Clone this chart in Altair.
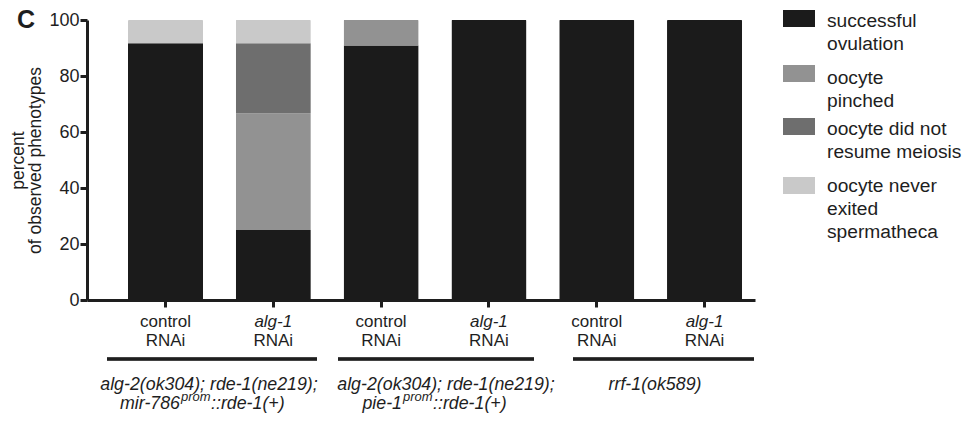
import altair as alt
import pandas as pd

# ---- data -------------------------------------------------------------
bar_ids = ["b1", "b2", "b3", "b4", "b5", "b6"]
treatment = ["control", "alg-1", "control", "alg-1", "control", "alg-1"]
phenotypes = [
    "successful ovulation",
    "oocyte pinched",
    "oocyte did not resume meiosis",
    "oocyte never exited spermatheca",
]
legend_labels = [
    "successful\n ovulation",
    "oocyte\npinched",
    "oocyte did not\nresume meiosis",
    "oocyte never\nexited\nspermatheca",
]
successful = [91.7, 25.0, 90.9, 100.0, 100.0, 100.0]
pinched = [0.0, 41.7, 9.1, 0.0, 0.0, 0.0]
not_resumed = [0.0, 25.0, 0.0, 0.0, 0.0, 0.0]
never_exited = [8.3, 8.3, 0.0, 0.0, 0.0, 0.0]
y_ticks = [0, 20, 40, 60, 80, 100]
colors = ["#1b1b1b", "#929292", "#6e6e6e", "#c9c9c9"]

series = [successful, pinched, not_resumed, never_exited]
rows = []
for k, (ph, vals) in enumerate(zip(phenotypes, series)):
    for b, v in zip(bar_ids, vals):
        rows.append({"bar": b, "phenotype": ph, "value": v, "ord": k})
df = pd.DataFrame(rows)
lab_df = pd.DataFrame({"bar": bar_ids, "treat": treatment, "rnai": ["RNAi"] * 6})

FONT = "Liberation Sans"
INK = "#1e1e1e"

xscale = alt.Scale(domain=bar_ids, paddingInner=0.304, paddingOuter=0.25, align=0.76)
color_scale = alt.Scale(domain=phenotypes, range=colors)

bars = alt.Chart(df).mark_bar(cornerRadius=1).encode(
    x=alt.X("bar:N", scale=xscale, sort=bar_ids,
            axis=alt.Axis(labels=False, title=None, domainWidth=3, tickWidth=3,
                          tickSize=7, domainColor=INK, tickColor=INK)),
    y=alt.Y("value:Q", stack="zero", scale=alt.Scale(domain=[0, 100], nice=False),
            axis=alt.Axis(values=y_ticks, title=["percent", "of observed phenotypes"],
                          titleFont=FONT, titleFontSize=17.5, titleFontWeight="normal",
                          titleColor=INK, titleLineHeight=17, titlePadding=4,
                          labelFont=FONT, labelFontSize=18, labelColor=INK,
                          labelPadding=1, domainWidth=3, tickWidth=3, tickSize=7,
                          domainColor=INK, tickColor=INK, grid=False)),
    color=alt.Color("phenotype:N", scale=color_scale, legend=None),
    order=alt.Order("ord:Q"),
)

base_lab = alt.Chart(lab_df)
ctrl_lab = base_lab.transform_filter("datum.treat == 'control'").mark_text(
    font=FONT, fontSize=17, color=INK, baseline="alphabetic").encode(
    x=alt.X("bar:N", scale=xscale), y=alt.value(307), text="treat:N")
alg_lab = base_lab.transform_filter("datum.treat == 'alg-1'").mark_text(
    font=FONT, fontSize=17, fontStyle="italic", color=INK, baseline="alphabetic").encode(
    x=alt.X("bar:N", scale=xscale), y=alt.value(307), text="treat:N")
rnai_lab = base_lab.mark_text(
    font=FONT, fontSize=17, color=INK, baseline="alphabetic").encode(
    x=alt.X("bar:N", scale=xscale), y=alt.value(326), text="rnai:N")

layers = [bars, ctrl_lab, alg_lab, rnai_lab]

# group brackets
for x1, x2 in [(20, 230), (251, 447), (486, 667)]:
    layers.append(alt.Chart(lab_df).mark_rule(strokeWidth=2.5, color=INK).encode(
        x=alt.value(x1), x2=alt.value(x2), y=alt.value(339)))


def txt(text, x, y, size=17.8, align="center", style="italic", weight="normal"):
    return alt.Chart(pd.DataFrame({"t": [text]})).mark_text(
        font=FONT, fontSize=size, fontStyle=style, fontWeight=weight, color=INK,
        align=align, baseline="alphabetic").encode(
        x=alt.value(x), y=alt.value(y), text="t:N")


layers += [
    txt("alg-2(ok304); rde-1(ne219);", 122, 370),
    txt("mir-786", 93, 389, align="right"),
    txt("prom", 94, 381, size=13, align="left"),
    txt("::rde-1(+)", 124, 389, align="left"),
    txt("alg-2(ok304); rde-1(ne219);", 359, 370),
    txt("pie-1", 315, 389, align="right"),
    txt("prom", 316, 381, size=13, align="left"),
    txt("::rde-1(+)", 346, 389, align="left"),
    txt("rrf-1(ok589)", 568, 370),
    txt("C", -61, 8, size=25, style="normal", weight="bold"),
]

# legend (manual, so labels can wrap like the original)
sw_tops = [-10, 45, 98, 157]
txt_base = [7, 64, 115, 172]
for ph, lab, col, top, tb in zip(phenotypes, legend_labels, colors, sw_tops, txt_base):
    layers.append(alt.Chart(pd.DataFrame({"p": [ph]})).mark_rect(color=col).encode(
        x=alt.value(696), x2=alt.value(728), y=alt.value(top), y2=alt.value(top + 17)))
    layers.append(alt.Chart(pd.DataFrame({"t": [lab]})).mark_text(
        font=FONT, fontSize=19.2, color=INK, align="left", baseline="alphabetic",
        lineBreak="\n", lineHeight=23).encode(
        x=alt.value(740), y=alt.value(tb), text="t:N"))

chart = alt.layer(*layers).properties(
    width=668, height=280,
    autosize=alt.AutoSizeParams(type="none"),
    padding={"left": 79, "top": 12, "right": 210, "bottom": 115},
    background="white",
).configure_view(stroke=None)

chart.save("out.html", embed_options={"renderer": "svg", "actions": False})
